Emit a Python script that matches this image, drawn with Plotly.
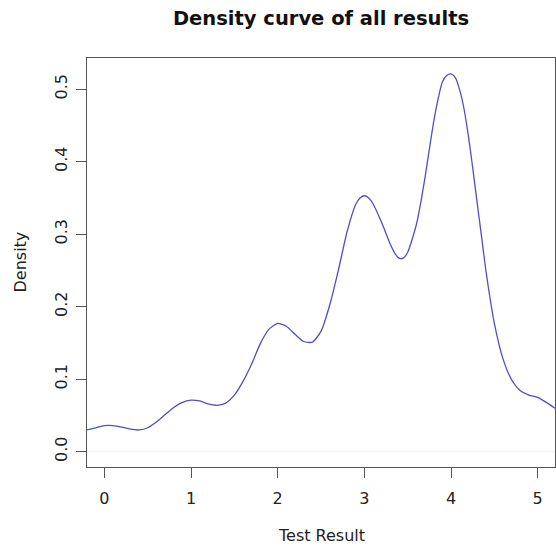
import plotly.graph_objects as go

# Density estimate
x_vals = [-0.2, -0.1, 0.0, 0.1, 0.2, 0.3, 0.4, 0.5, 0.6, 0.7, 0.8, 0.9,
          1.0, 1.1, 1.2, 1.3, 1.4, 1.5, 1.6, 1.7, 1.8, 1.9,
          2.0, 2.1, 2.2, 2.3, 2.4, 2.5, 2.6, 2.7, 2.8, 2.9, 2.95,
          3.0, 3.05, 3.1, 3.2, 3.3, 3.35, 3.4, 3.45, 3.5, 3.6, 3.65, 3.7, 3.75, 3.8, 3.85, 3.9, 3.95,
          4.0, 4.05, 4.1, 4.15, 4.2, 4.25, 4.3, 4.35, 4.4, 4.45, 4.5, 4.6, 4.7, 4.8, 4.9,
          5.0, 5.1, 5.2]
density = [0.030, 0.033, 0.036, 0.036, 0.034, 0.031, 0.030, 0.033, 0.041, 0.051, 0.061, 0.068,
           0.071, 0.070, 0.066, 0.064, 0.067, 0.078, 0.097, 0.121, 0.149, 0.169,
           0.177, 0.173, 0.162, 0.152, 0.151, 0.166, 0.202, 0.250, 0.303, 0.341, 0.350,
           0.353, 0.350, 0.342, 0.316, 0.286, 0.274, 0.267, 0.267, 0.275, 0.313, 0.343, 0.378, 0.417, 0.455, 0.486, 0.510, 0.519,
           0.521, 0.516, 0.499, 0.473, 0.436, 0.392, 0.345, 0.299, 0.252, 0.212, 0.177, 0.128, 0.099, 0.084, 0.078,
           0.075, 0.068, 0.060]

x_ticks = [0, 1, 2, 3, 4, 5]
y_ticks = [0.0, 0.1, 0.2, 0.3, 0.4, 0.5]
y_tick_labels = ["0.0", "0.1", "0.2", "0.3", "0.4", "0.5"]

title_text = "Density curve of all results"
x_label = "Test Result"
y_label = "Density"

FONT = "DejaVu Sans"
AXIS_COLOR = "#555555"
TEXT_COLOR = "#222222"

fig = go.Figure()
fig.add_trace(go.Scatter(
    x=x_vals, y=density, mode="lines",
    line=dict(color="#4f4fc6", width=1.3, shape="spline", smoothing=0.6),
    showlegend=False, hoverinfo="x+y",
))

fig.add_shape(type="line", xref="paper", yref="y", x0=0, x1=1, y0=0, y1=0,
              line=dict(color="#f0f0f0", width=1), layer="below")

fig.update_layout(
    width=556, height=551,
    margin=dict(l=87, r=1, t=58, b=84),
    paper_bgcolor="white", plot_bgcolor="white",
    font=dict(family=FONT, size=16, color=TEXT_COLOR),
    title=dict(text="<b>" + title_text + "</b>", x=321 / 556, xanchor="center",
               y=1 - 18 / 551, yanchor="middle", xref="container", yref="container",
               font=dict(family=FONT, size=19.5, color="#111111")),
    xaxis=dict(range=[-0.2, 5.2], tickvals=x_ticks, ticktext=[str(t) for t in x_ticks],
               showgrid=False, zeroline=False, showline=True, mirror=True,
               linecolor=AXIS_COLOR, linewidth=1.2, ticks="outside", ticklen=10,
               tickcolor=AXIS_COLOR, tickwidth=1.2, ticklabelstandoff=7,
               tickfont=dict(family=FONT, size=16, color=TEXT_COLOR)),
    yaxis=dict(range=[-0.0211, 0.543], tickvals=y_ticks, ticktext=y_tick_labels,
               showgrid=False, zeroline=False, showline=True, mirror=True,
               linecolor=AXIS_COLOR, linewidth=1.2, ticks="outside", ticklen=10,
               tickcolor=AXIS_COLOR, tickwidth=1.2, tickangle=-90, ticklabelstandoff=3,
               tickfont=dict(family=FONT, size=16, color=TEXT_COLOR)),
    annotations=[
        dict(text=x_label, xref="paper", yref="paper", x=0.5, y=0, yshift=-68,
             showarrow=False, xanchor="center", yanchor="middle",
             font=dict(family=FONT, size=16, color=TEXT_COLOR)),
        dict(text=y_label, xref="paper", yref="paper", x=0, y=0.5, xshift=-67,
             showarrow=False, xanchor="center", yanchor="middle", textangle=-90,
             font=dict(family=FONT, size=16, color=TEXT_COLOR)),
    ],
)

fig.write_html("out.html", config={"displayModeBar": False},
               post_script="document.body.style.margin='0';")
